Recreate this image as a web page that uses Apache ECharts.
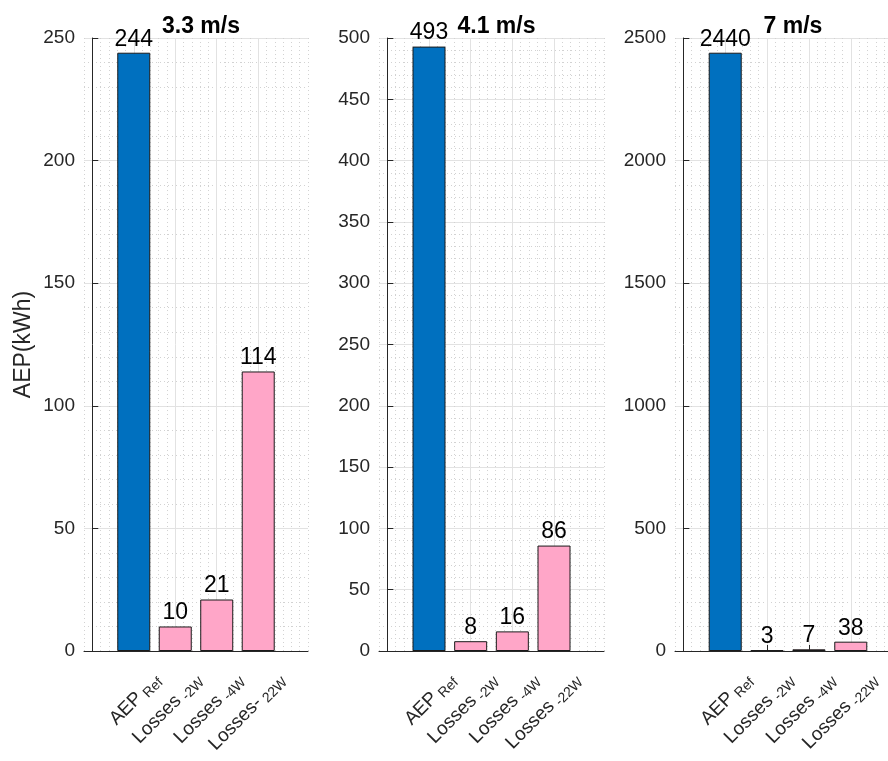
<!DOCTYPE html>
<html>
<head>
<meta charset="utf-8">
<script src="https://cdn.jsdelivr.net/npm/echarts@6/dist/echarts.min.js"></script>
<style>html,body{margin:0;padding:0;background:#fff}#c{width:888px;height:761px}</style>
</head>
<body>
<div id="c"></div>
<script>
// ---- data ----
const titles = ['3.3 m/s', '4.1 m/s', '7 m/s'];
const catMain1 = ['AEP', 'Losses', 'Losses', 'Losses-'];
const catSub1 = ['Ref', '-2W', '-4W', '22W'];
const catMain2 = ['AEP', 'Losses', 'Losses', 'Losses'];
const catSub2 = ['Ref', '-2W', '-4W', '-22W'];
const catMain3 = ['AEP', 'Losses', 'Losses', 'Losses'];
const catSub3 = ['Ref', '-2W', '-4W', '-22W'];
const values1 = [244, 10, 21, 114];
const values2 = [493, 8, 16, 86];
const values3 = [2440, 3, 7, 38];
const yMax = [250, 500, 2500];
const yInterval = [50, 50, 500];
const yName = 'AEP(kWh)';

// ---- layout / style ----
const panels = [
  {left: 84, width: 224, main: catMain1, sub: catSub1, vals: values1},
  {left: 379, width: 225, main: catMain2, sub: catSub2, vals: values2},
  {left: 675, width: 226, main: catMain3, sub: catSub3, vals: values3}
];
const FONT = 'Liberation Sans, Arial, sans-serif';
const axisColor = '#262626';
const majorGrid = '#e2e2e2';
const minorGrid = '#d2d2d2';
const blue = '#0070BF';
const pink = '#FFA6C8';

const grids = [], xAxes = [], yAxes = [], series = [], titleArr = [];
panels.forEach((p, i) => {
  grids.push({left: p.left, width: p.width, top: 38, height: 613, containLabel: false, outerBoundsMode: 'none'});
  const catVals = p.vals.map((_, k) => k + 1);
  // minor vertical grid axis
  xAxes.push({
    type: 'value', gridIndex: i, position: 'bottom', min: -0.2, max: 5.2, interval: 0.2,
    axisLine: {show: false}, axisTick: {show: false}, axisLabel: {show: false},
    splitLine: {show: true, lineStyle: {color: minorGrid, type: [1, 3], width: 1}}
  });
  // main axis
  xAxes.push({
    type: 'value', gridIndex: i, position: 'bottom', min: -0.2, max: 5.2, interval: 1,
    axisLine: {show: true, onZero: false, lineStyle: {color: axisColor, width: 1}},
    axisTick: {show: true, inside: true, length: 6, customValues: catVals, lineStyle: {color: axisColor}},
    axisLabel: {
      show: true, customValues: catVals, rotate: 45, margin: 2, color: axisColor,
      fontFamily: FONT, fontSize: 19, padding: [68, 0, 0, 0],
      formatter: function (v) {
        const k = Math.round(v);
        if (Math.abs(v - k) > 1e-6 || k < 1 || k > p.main.length) return '';
        return '{n|' + p.main[k - 1] + '}{s|' + p.sub[k - 1] + '}';
      },
      rich: {
        n: {fontSize: 19, color: axisColor, fontFamily: FONT},
        s: {fontSize: 14, color: axisColor, fontFamily: FONT, padding: [9, 0, 0, 4]}
      }
    },
    splitLine: {show: true, lineStyle: {color: majorGrid, width: 1}}
  });
  yAxes.push({
    type: 'value', gridIndex: i, min: 0, max: yMax[i], interval: yInterval[i],
    name: i === 0 ? yName : '', nameLocation: 'middle', nameRotate: 90, nameGap: 49,
    nameTextStyle: {fontFamily: FONT, fontSize: 23, color: axisColor},
    axisLine: {show: true, lineStyle: {color: axisColor, width: 1}},
    axisTick: {show: true, inside: true, length: 6, lineStyle: {color: axisColor}},
    axisLabel: {color: axisColor, fontFamily: FONT, fontSize: 19, margin: 9, formatter: (v) => String(v)},
    splitLine: {show: true, lineStyle: {color: majorGrid, width: 1}},
    minorTick: {show: false, splitNumber: 5},
    minorSplitLine: {show: true, lineStyle: {color: minorGrid, type: [1, 3], width: 1}}
  });
  series.push({
    type: 'bar', xAxisIndex: 2 * i + 1, yAxisIndex: i, barWidth: 33,
    data: p.vals.map((v, k) => ({
      value: [k + 1, v],
      itemStyle: {color: k === 0 ? blue : pink, borderColor: '#1a1a1a', borderWidth: 1}
    })),
    label: {
      show: true, position: 'top', distance: 2, color: '#000', fontFamily: FONT, fontSize: 23,
      formatter: (d) => d.value[1]
    },
    z: 3
  });
  titleArr.push({
    text: titles[i], left: p.left + p.width / 2, top: 10, textAlign: 'center',
    textStyle: {fontFamily: FONT, fontSize: 23, fontWeight: 'bold', color: '#000'}
  });
});

const chart = echarts.init(document.getElementById('c'), null, {renderer: 'canvas'});
chart.setOption({
  animation: false,
  backgroundColor: '#fff',
  title: titleArr,
  grid: grids,
  xAxis: xAxes,
  yAxis: yAxes,
  series: series
});
</script>
</body>
</html>
